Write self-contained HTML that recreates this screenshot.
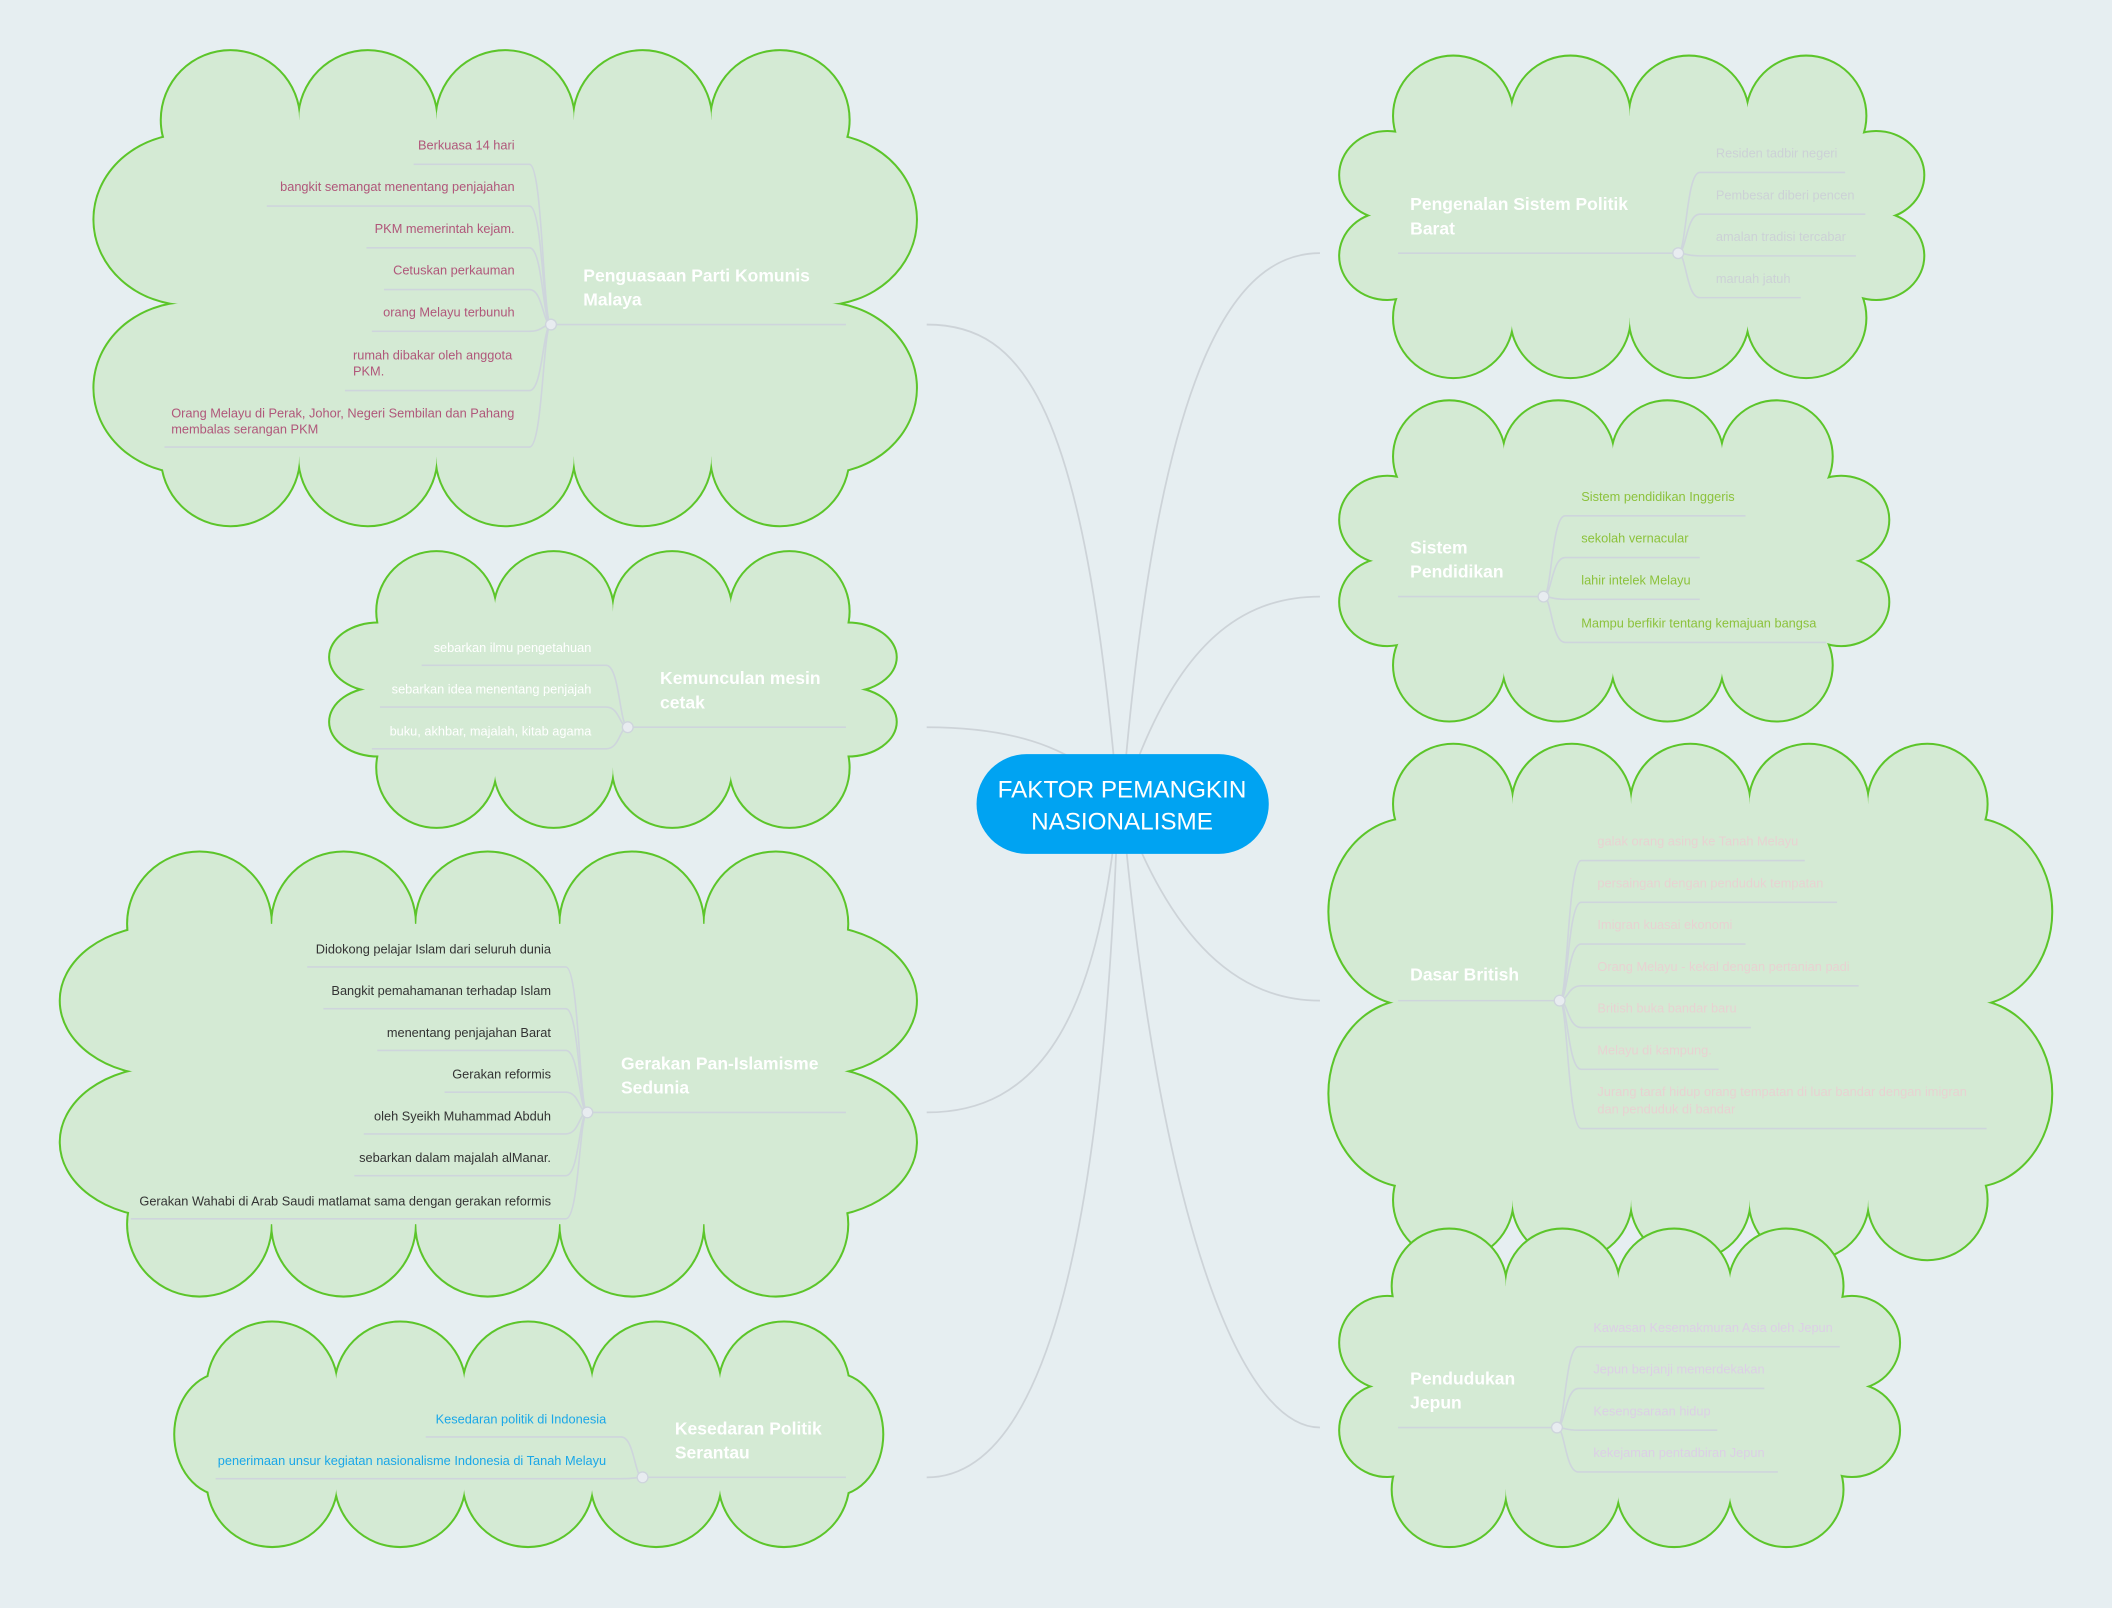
<!DOCTYPE html>
<html><head><meta charset="utf-8"><style>
html,body{margin:0;padding:0;background:#e6eef1;}
svg{display:block}
text{font-family:"Liberation Sans",sans-serif;}
.t{font-size:13px;font-weight:bold;fill:#fff}
.c{font-size:9.5px}
</style></head><body>
<svg width="2112" height="1608" viewBox="0 0 1568 1194" xmlns="http://www.w3.org/2000/svg" xmlns:xlink="http://www.w3.org/1999/xlink">
<defs>
<g id="c1">
<circle cx="171" cy="89" r="51"/><circle cx="273" cy="89" r="51"/><circle cx="375" cy="89" r="51"/><circle cx="477" cy="89" r="51"/><circle cx="579" cy="89" r="51"/>
<circle cx="171" cy="339" r="51"/><circle cx="273" cy="339" r="51"/><circle cx="375" cy="339" r="51"/><circle cx="477" cy="339" r="51"/><circle cx="579" cy="339" r="51"/>
<ellipse cx="140" cy="163" rx="70" ry="63"/><ellipse cx="140" cy="288" rx="70" ry="63"/><ellipse cx="610" cy="163" rx="70" ry="63"/><ellipse cx="610" cy="288" rx="70" ry="63"/>
<rect x="171" y="89" width="408" height="250"/><rect x="140" y="163" width="470" height="125"/>
</g>
<g id="c2">
<circle cx="324" cy="454" r="44"/><circle cx="411" cy="454" r="44"/><circle cx="499" cy="454" r="44"/><circle cx="586" cy="454" r="44"/>
<circle cx="324" cy="570" r="44"/><circle cx="411" cy="570" r="44"/><circle cx="499" cy="570" r="44"/><circle cx="586" cy="570" r="44"/>
<ellipse cx="281" cy="488" rx="36" ry="25"/><ellipse cx="281" cy="536" rx="36" ry="25"/><ellipse cx="629" cy="488" rx="36" ry="25"/><ellipse cx="629" cy="536" rx="36" ry="25"/>
<rect x="324" y="454" width="262" height="116"/><rect x="281" y="488" width="348" height="48"/>
</g>
<g id="c3">
<circle cx="148" cy="686" r="53"/><circle cx="255" cy="686" r="53"/><circle cx="362" cy="686" r="53"/><circle cx="469" cy="686" r="53"/><circle cx="576" cy="686" r="53"/>
<circle cx="148" cy="909" r="53"/><circle cx="255" cy="909" r="53"/><circle cx="362" cy="909" r="53"/><circle cx="469" cy="909" r="53"/><circle cx="576" cy="909" r="53"/>
<ellipse cx="120" cy="743" rx="75" ry="55"/><ellipse cx="120" cy="848" rx="75" ry="55"/><ellipse cx="605" cy="743" rx="75" ry="55"/><ellipse cx="605" cy="848" rx="75" ry="55"/>
<rect x="148" y="686" width="428" height="223"/><rect x="120" y="743" width="485" height="105"/>
</g>
<g id="c4">
<circle cx="202" cy="1030" r="48"/><circle cx="297" cy="1030" r="48"/><circle cx="392" cy="1030" r="48"/><circle cx="487" cy="1030" r="48"/><circle cx="582" cy="1030" r="48"/>
<circle cx="202" cy="1100" r="48"/><circle cx="297" cy="1100" r="48"/><circle cx="392" cy="1100" r="48"/><circle cx="487" cy="1100" r="48"/><circle cx="582" cy="1100" r="48"/>
<ellipse cx="166" cy="1065" rx="36" ry="45"/><ellipse cx="619" cy="1065" rx="36" ry="45"/>
<rect x="166" y="1030" width="453" height="70"/>
</g>
<g id="c5">
<circle cx="1079" cy="86" r="44"/><circle cx="1166" cy="86" r="44"/><circle cx="1254" cy="86" r="44"/><circle cx="1341" cy="86" r="44"/>
<circle cx="1079" cy="236" r="44"/><circle cx="1166" cy="236" r="44"/><circle cx="1254" cy="236" r="44"/><circle cx="1341" cy="236" r="44"/>
<ellipse cx="1030" cy="130" rx="35" ry="32"/><ellipse cx="1030" cy="190" rx="35" ry="32"/><ellipse cx="1393" cy="130" rx="35" ry="32"/><ellipse cx="1393" cy="190" rx="35" ry="32"/>
<rect x="1069" y="86" width="282" height="150"/><rect x="1030" y="120" width="363" height="80"/>
</g>
<g id="c6">
<circle cx="1076" cy="339" r="41"/><circle cx="1157" cy="339" r="41"/><circle cx="1238" cy="339" r="41"/><circle cx="1319" cy="339" r="41"/>
<circle cx="1076" cy="494" r="41"/><circle cx="1157" cy="494" r="41"/><circle cx="1238" cy="494" r="41"/><circle cx="1319" cy="494" r="41"/>
<ellipse cx="1030" cy="386" rx="35" ry="32"/><ellipse cx="1030" cy="447" rx="35" ry="32"/><ellipse cx="1367" cy="386" rx="35" ry="32"/><ellipse cx="1367" cy="447" rx="35" ry="32"/>
<rect x="1066" y="339" width="263" height="155"/><rect x="1030" y="376" width="337" height="81"/>
</g>
<g id="c7">
<circle cx="1079" cy="597" r="44"/><circle cx="1167" cy="597" r="44"/><circle cx="1255" cy="597" r="44"/><circle cx="1343" cy="597" r="44"/><circle cx="1431" cy="597" r="44"/>
<circle cx="1079" cy="891" r="44"/><circle cx="1167" cy="891" r="44"/><circle cx="1255" cy="891" r="44"/><circle cx="1343" cy="891" r="44"/><circle cx="1431" cy="891" r="44"/>
<ellipse cx="1047" cy="677" rx="60" ry="69"/><ellipse cx="1047" cy="812" rx="60" ry="69"/><ellipse cx="1463" cy="677" rx="60" ry="69"/><ellipse cx="1463" cy="812" rx="60" ry="69"/>
<rect x="1079" y="597" width="352" height="294"/><rect x="1047" y="677" width="416" height="135"/>
</g>
<g id="c8">
<circle cx="1076" cy="955" r="42"/><circle cx="1160" cy="955" r="42"/><circle cx="1243" cy="955" r="42"/><circle cx="1326" cy="955" r="42"/>
<circle cx="1076" cy="1106" r="42"/><circle cx="1160" cy="1106" r="42"/><circle cx="1243" cy="1106" r="42"/><circle cx="1326" cy="1106" r="42"/>
<ellipse cx="1030" cy="997" rx="35" ry="34"/><ellipse cx="1030" cy="1062" rx="35" ry="34"/><ellipse cx="1375" cy="997" rx="35" ry="34"/><ellipse cx="1375" cy="1062" rx="35" ry="34"/>
<rect x="1066" y="955" width="270" height="151"/><rect x="1030" y="987" width="345" height="85"/>
</g>
</defs>
<rect width="1568" height="1194" fill="#e6eef1"/>
<g fill="none" stroke="#cdd3d8" stroke-width="1.3">
<path d="M830 597 C 805 300, 760 241, 688 241"/>
<path d="M830 597 C 810 560, 760 540, 688 540"/>
<path d="M830 597 C 815 760, 770 826, 688 826"/>
<path d="M830 597 C 820 900, 780 1097, 688 1097"/>
<path d="M833 597 C 860 260, 920 188, 980 188"/>
<path d="M833 597 C 870 480, 920 443, 980 443"/>
<path d="M833 597 C 870 700, 920 743, 980 743"/>
<path d="M833 597 C 860 900, 920 1060, 980 1060"/>
</g>
<use xlink:href="#c1" href="#c1" fill="#d4ead4" stroke="#5cc52a" stroke-width="3"/><use xlink:href="#c1" href="#c1" fill="#d4ead4" stroke="none"/>
<use xlink:href="#c2" href="#c2" fill="#d4ead4" stroke="#5cc52a" stroke-width="3"/><use xlink:href="#c2" href="#c2" fill="#d4ead4" stroke="none"/>
<use xlink:href="#c3" href="#c3" fill="#d4ead4" stroke="#5cc52a" stroke-width="3"/><use xlink:href="#c3" href="#c3" fill="#d4ead4" stroke="none"/>
<use xlink:href="#c4" href="#c4" fill="#d4ead4" stroke="#5cc52a" stroke-width="3"/><use xlink:href="#c4" href="#c4" fill="#d4ead4" stroke="none"/>
<use xlink:href="#c5" href="#c5" fill="#d4ead4" stroke="#5cc52a" stroke-width="3"/><use xlink:href="#c5" href="#c5" fill="#d4ead4" stroke="none"/>
<use xlink:href="#c6" href="#c6" fill="#d4ead4" stroke="#5cc52a" stroke-width="3"/><use xlink:href="#c6" href="#c6" fill="#d4ead4" stroke="none"/>
<use xlink:href="#c7" href="#c7" fill="#d4ead4" stroke="#5cc52a" stroke-width="3"/><use xlink:href="#c7" href="#c7" fill="#d4ead4" stroke="none"/>
<use xlink:href="#c8" href="#c8" fill="#d4ead4" stroke="#5cc52a" stroke-width="3"/><use xlink:href="#c8" href="#c8" fill="#d4ead4" stroke="none"/>

<g fill="none" stroke="#ced5dc" stroke-width="1.2">
<path d="M408 241 H628"/>
<path d="M409 241 C403 241 403 122 393 122 H307"/>
<path d="M409 241 C403 241 403 153 393 153 H198"/>
<path d="M409 241 C403 241 403 184 393 184 H272"/>
<path d="M409 241 C403 241 403 215 393 215 H285"/>
<path d="M409 241 C403 241 403 246 393 246 H276"/>
<path d="M409 241 C403 241 403 290 393 290 H256"/>
<path d="M409 241 C403 241 403 332 393 332 H122"/>
<path d="M466 540 H628"/>
<path d="M466 540 C460 540 460 494 450 494 H313"/>
<path d="M466 540 C460 540 460 525 450 525 H282"/>
<path d="M466 540 C460 540 460 556 450 556 H276"/>
<path d="M436 826 H628"/>
<path d="M436 826 C430 826 430 718 420 718 H228"/>
<path d="M436 826 C430 826 430 749 420 749 H240"/>
<path d="M436 826 C430 826 430 780 420 780 H280"/>
<path d="M436 826 C430 826 430 811 420 811 H330"/>
<path d="M436 826 C430 826 430 842 420 842 H270"/>
<path d="M436 826 C430 826 430 873 420 873 H263"/>
<path d="M436 826 C430 826 430 905 420 905 H97"/>
<path d="M477 1097 H628"/>
<path d="M477 1097 C471 1097 471 1067 461 1067 H316"/>
<path d="M477 1097 C471 1097 471 1098 461 1098 H160"/>
<path d="M1038 188 H1246"/>
<path d="M1246 188 C1252 188 1252 128 1262 128 H1370"/>
<path d="M1246 188 C1252 188 1252 159 1262 159 H1385"/>
<path d="M1246 188 C1252 188 1252 190 1262 190 H1378"/>
<path d="M1246 188 C1252 188 1252 221 1262 221 H1337"/>
<path d="M1038 443 H1146"/>
<path d="M1146 443 C1152 443 1152 383 1162 383 H1296"/>
<path d="M1146 443 C1152 443 1152 414 1162 414 H1262"/>
<path d="M1146 443 C1152 443 1152 445 1162 445 H1262"/>
<path d="M1146 443 C1152 443 1152 477 1162 477 H1356"/>
<path d="M1038 743 H1158"/>
<path d="M1158 743 C1164 743 1164 639 1174 639 H1340"/>
<path d="M1158 743 C1164 743 1164 670 1174 670 H1364"/>
<path d="M1158 743 C1164 743 1164 701 1174 701 H1296"/>
<path d="M1158 743 C1164 743 1164 732 1174 732 H1380"/>
<path d="M1158 743 C1164 743 1164 763 1174 763 H1300"/>
<path d="M1158 743 C1164 743 1164 794 1174 794 H1276"/>
<path d="M1158 743 C1164 743 1164 838 1174 838 H1475"/>
<path d="M1038 1060 H1156"/>
<path d="M1156 1060 C1162 1060 1162 1000 1172 1000 H1366"/>
<path d="M1156 1060 C1162 1060 1162 1031 1172 1031 H1310"/>
<path d="M1156 1060 C1162 1060 1162 1062 1172 1062 H1275"/>
<path d="M1156 1060 C1162 1060 1162 1093 1172 1093 H1320"/>
</g>
<g fill="#e8ecf0" stroke="#ced5dc" stroke-width="1">
<circle cx="409" cy="241" r="4"/><circle cx="466" cy="540" r="4"/><circle cx="436" cy="826" r="4"/><circle cx="477" cy="1097" r="4"/>
<circle cx="1246" cy="188" r="4"/><circle cx="1146" cy="443" r="4"/><circle cx="1158" cy="743" r="4"/><circle cx="1156" cy="1060" r="4"/>
</g>

<text class="t" x="433" y="209">Penguasaan Parti Komunis</text>
<text class="t" x="433" y="227">Malaya</text>
<text class="t" x="490" y="508">Kemunculan mesin</text>
<text class="t" x="490" y="526">cetak</text>
<text class="t" x="461" y="794">Gerakan Pan-Islamisme</text>
<text class="t" x="461" y="812">Sedunia</text>
<text class="t" x="501" y="1065">Kesedaran Politik</text>
<text class="t" x="501" y="1083">Serantau</text>
<text class="t" x="1047" y="156">Pengenalan Sistem Politik</text>
<text class="t" x="1047" y="174">Barat</text>
<text class="t" x="1047" y="411">Sistem</text>
<text class="t" x="1047" y="429">Pendidikan</text>
<text class="t" x="1047" y="728">Dasar British</text>
<text class="t" x="1047" y="1028">Pendudukan</text>
<text class="t" x="1047" y="1046">Jepun</text>

<g class="c" fill="#b0577a">
<text x="382" y="111" text-anchor="end">Berkuasa 14 hari</text>
<text x="382" y="142" text-anchor="end">bangkit semangat menentang penjajahan</text>
<text x="382" y="173" text-anchor="end">PKM memerintah kejam.</text>
<text x="382" y="204" text-anchor="end">Cetuskan perkauman</text>
<text x="382" y="235" text-anchor="end">orang Melayu terbunuh</text>
<text x="262" y="267">rumah dibakar oleh anggota</text>
<text x="262" y="279">PKM.</text>
<text x="127" y="310">Orang Melayu di Perak, Johor, Negeri Sembilan dan Pahang</text>
<text x="127" y="322">membalas serangan PKM</text>
</g>
<g class="c" fill="#ffffff">
<text x="439" y="484" text-anchor="end">sebarkan ilmu pengetahuan</text>
<text x="439" y="515" text-anchor="end">sebarkan idea menentang penjajah</text>
<text x="439" y="546" text-anchor="end">buku, akhbar, majalah, kitab agama</text>
</g>
<g class="c" fill="#333333">
<text x="409" y="708" text-anchor="end">Didokong pelajar Islam dari seluruh dunia</text>
<text x="409" y="739" text-anchor="end">Bangkit pemahamanan terhadap Islam</text>
<text x="409" y="770" text-anchor="end">menentang penjajahan Barat</text>
<text x="409" y="801" text-anchor="end">Gerakan reformis</text>
<text x="409" y="832" text-anchor="end">oleh Syeikh Muhammad Abduh</text>
<text x="409" y="863" text-anchor="end">sebarkan dalam majalah alManar.</text>
<text x="409" y="895" text-anchor="end">Gerakan Wahabi di Arab Saudi matlamat sama dengan gerakan reformis</text>
</g>
<g class="c" fill="#1aa7e8">
<text x="450" y="1057" text-anchor="end">Kesedaran politik di Indonesia</text>
<text x="450" y="1088" text-anchor="end">penerimaan unsur kegiatan nasionalisme Indonesia di Tanah Melayu</text>
</g>
<g class="c" fill="#ccd1d6">
<text x="1274" y="117">Residen tadbir negeri</text>
<text x="1274" y="148">Pembesar diberi pencen</text>
<text x="1274" y="179">amalan tradisi tercabar</text>
<text x="1274" y="210">maruah jatuh</text>
</g>
<g class="c" fill="#8cc23c">
<text x="1174" y="372">Sistem pendidikan Inggeris</text>
<text x="1174" y="403">sekolah vernacular</text>
<text x="1174" y="434">lahir intelek Melayu</text>
<text x="1174" y="466">Mampu berfikir tentang kemajuan bangsa</text>
</g>
<g class="c" fill="#e8d2d2">
<text x="1186" y="628">galak orang asing ke Tanah Melayu</text>
<text x="1186" y="659">persaingan dengan penduduk tempatan</text>
<text x="1186" y="690">Imigran kuasai ekonomi</text>
<text x="1186" y="721">Orang Melayu - kekal dengan pertanian padi</text>
<text x="1186" y="752">British buka bandar baru</text>
<text x="1186" y="783">Melayu di kampung.</text>
<text x="1186" y="814">Jurang taraf hidup orang tempatan di luar bandar dengan imigran</text>
<text x="1186" y="827">dan penduduk di bandar</text>
</g>
<g class="c" fill="#dccfe6">
<text x="1183" y="989">Kawasan Kesemakmuran Asia oleh Jepun</text>
<text x="1183" y="1020">Jepun berjanji memerdekakan</text>
<text x="1183" y="1051">Kesengsaraan hidup</text>
<text x="1183" y="1082">kekejaman pentadbiran Jepun</text>
</g>

<rect x="725" y="560" width="217" height="74" rx="37" fill="#00a3f2"/>
<text x="833" y="592" text-anchor="middle" font-size="18" fill="#fff">FAKTOR PEMANGKIN</text>
<text x="833" y="616" text-anchor="middle" font-size="18" fill="#fff">NASIONALISME</text>
</svg>
</body></html>
